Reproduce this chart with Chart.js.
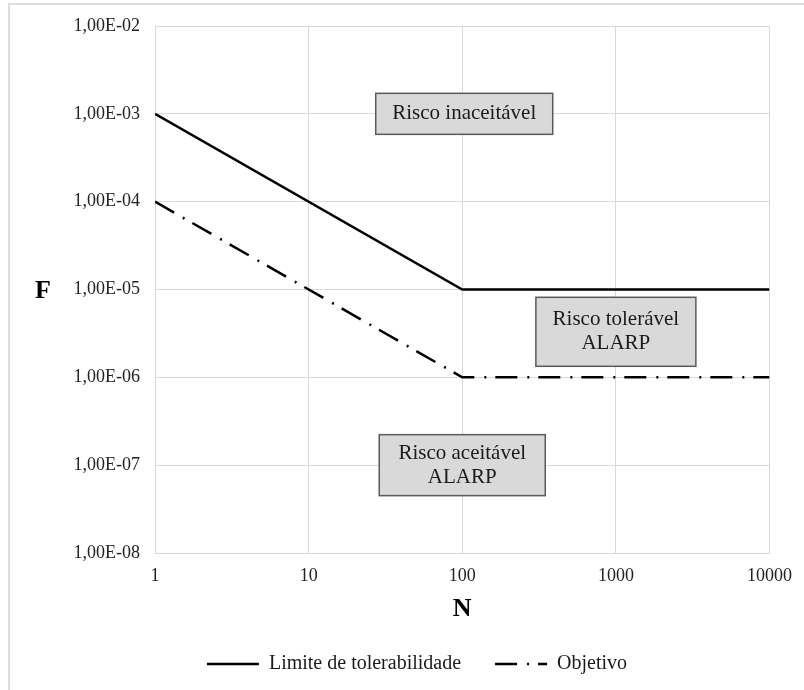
<!DOCTYPE html>
<html>
<head>
<meta charset="utf-8">
<title>Curva F-N</title>
<script src="https://cdn.jsdelivr.net/npm/chart.js@4/dist/chart.umd.min.js"></script>
<style>
  html, body { margin: 0; padding: 0; background: #ffffff; }
  #wrap { position: relative; width: 804px; height: 690px; overflow: hidden; }
  #frame { position: absolute; left: 8px; top: 3px; right: -4px; bottom: -4px;
           border-top: 2px solid #dcdcdc; border-left: 2px solid #dcdcdc; pointer-events: none; }
  canvas { position: absolute; left: 0; top: 0; }
</style>
</head>
<body>
<div id="wrap">
  <canvas id="fn" width="804" height="690"></canvas>
  <div id="frame"></div>
</div>
<script>
// Número de fatalidades (N) nos vértices das curvas
const nValues = [1, 100, 10000];
// Frequência acumulada (F) por ano
const limiteF = [1e-3, 1e-5, 1e-5];
const objetivoF = [1e-4, 1e-6, 1e-6];

const seriesNames = ['Limite de tolerabilidade', 'Objetivo'];

// Marcas dos eixos
const xTicks = [1, 10, 100, 1000, 10000];
const yTicks = [1e-8, 1e-7, 1e-6, 1e-5, 1e-4, 1e-3, 1e-2];

// Rótulos das regiões de risco (linhas de texto e ponto de ancoragem N, F)
const regionLines = [
  ['Risco inaceitável'],
  ['Risco tolerável', 'ALARP'],
  ['Risco aceitável', 'ALARP']
];
const regionN = [103, 1000, 100];
const regionF = [1e-3, 3.3e-6, 1e-7];

const SERIF = "'Liberation Serif', 'Times New Roman', serif";
const GRID = '#d9d9d9';

function fmtSci(v) {
  const e = Math.round(Math.log10(v));
  const sign = e < 0 ? '-' : '+';
  const a = Math.abs(e);
  return '1,00E' + sign + (a < 10 ? '0' + a : a);
}

function toPoints(ys) {
  return nValues.map((n, i) => ({ x: n, y: ys[i] }));
}

// caixas das regiões e títulos dos eixos
const regionBoxes = {
  id: 'regionBoxes',
  afterDatasetsDraw(chart) {
    const { ctx, scales: { x, y } } = chart;
    const sizes = [[177, 41], [160, 69], [166, 61]];
    ctx.save();
    regionLines.forEach((lines, i) => {
      const cx = x.getPixelForValue(regionN[i]);
      const cy = y.getPixelForValue(regionF[i]);
      const [w, h] = sizes[i];
      ctx.fillStyle = '#d9d9d9';
      ctx.strokeStyle = '#5a5a5a';
      ctx.lineWidth = 1.5;
      ctx.fillRect(cx - w / 2, cy - h / 2, w, h);
      ctx.strokeRect(cx - w / 2, cy - h / 2, w, h);
      ctx.fillStyle = '#1a1a1a';
      ctx.font = '21px ' + SERIF;
      ctx.textAlign = 'center';
      ctx.textBaseline = 'middle';
      const lh = 24;
      lines.forEach((t, k) => {
        ctx.fillText(t, cx, cy + (k - (lines.length - 1) / 2) * lh);
      });
    });
    ctx.restore();
  },
  afterDraw(chart) {
    const { ctx, chartArea } = chart;
    ctx.save();
    ctx.fillStyle = '#000';
    ctx.font = 'bold 26px ' + SERIF;
    ctx.textAlign = 'center';
    ctx.textBaseline = 'middle';
    ctx.fillText('F', 43, (chartArea.top + chartArea.bottom) / 2 + 2);
    ctx.fillText('N', (chartArea.left + chartArea.right) / 2, chartArea.bottom + 56);
    ctx.restore();
  }
};

new Chart(document.getElementById('fn'), {
  type: 'line',
  data: {
    datasets: [
      {
        label: seriesNames[0],
        data: toPoints(limiteF),
        borderColor: '#000',
        backgroundColor: '#000',
        borderWidth: 2.5,
        pointRadius: 0,
        fill: false,
        tension: 0
      },
      {
        label: seriesNames[1],
        data: toPoints(objetivoF),
        borderColor: '#000',
        backgroundColor: '#000',
        borderWidth: 2.5,
        borderDash: [22, 10, 2, 9],
        pointRadius: 0,
        fill: false,
        tension: 0
      }
    ]
  },
  options: {
    responsive: false,
    animation: false,
    devicePixelRatio: 1,
    layout: { padding: { left: 64, right: 34, top: 26, bottom: 6 } },
    plugins: {
      tooltip: { enabled: false },
      legend: {
        position: 'bottom',
        maxHeight: 75,
        labels: {
          usePointStyle: true,
          pointStyle: 'line',
          pointStyleWidth: 52,
          padding: 34,
          color: '#1a1a1a',
          font: { family: SERIF, size: 20 },
          generateLabels: (chart) => {
            const items = Chart.defaults.plugins.legend.labels.generateLabels(chart);
            return items.map((it) => {
              const ds = chart.data.datasets[it.datasetIndex];
              return Object.assign(it, {
                lineDash: ds.borderDash || [],
                lineWidth: 2.5,
                strokeStyle: ds.borderColor,
                fillStyle: ds.borderColor,
                pointStyle: 'line'
              });
            });
          }
        }
      }
    },
    scales: {
      x: {
        type: 'logarithmic',
        min: 1,
        max: 10000,
        afterBuildTicks: (s) => { s.ticks = xTicks.map(v => ({ value: v })); },
        afterFit: (s) => { s.height = 67; },
        grid: { color: GRID, lineWidth: 1, drawTicks: false },
        border: { display: true, color: GRID },
        ticks: {
          padding: 12,
          maxRotation: 0,
          autoSkip: false,
          color: '#222',
          font: { family: SERIF, size: 18 },
          callback: (v) => String(v)
        }
      },
      y: {
        type: 'logarithmic',
        min: 1e-8,
        max: 1e-2,
        afterBuildTicks: (s) => { s.ticks = yTicks.map(v => ({ value: v })); },
        afterFit: (s) => { s.width = 91; },
        grid: { color: GRID, lineWidth: 1, drawTicks: false },
        border: { display: true, color: GRID },
        ticks: {
          padding: 15,
          autoSkip: false,
          color: '#222',
          font: { family: SERIF, size: 18 },
          callback: (v) => fmtSci(v)
        }
      }
    }
  },
  plugins: [regionBoxes]
});
</script>
</body>
</html>
